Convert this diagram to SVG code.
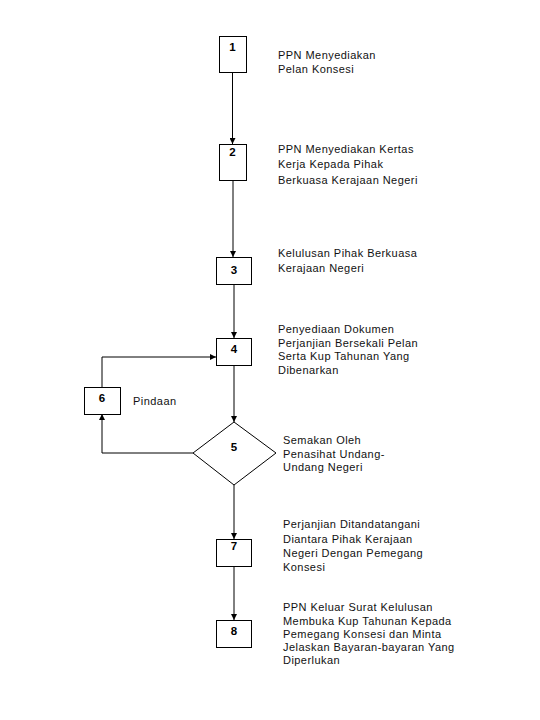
<svg xmlns="http://www.w3.org/2000/svg" width="540" height="720" viewBox="0 0 540 720">
<defs>
<marker id="arr" markerUnits="userSpaceOnUse" markerWidth="7" markerHeight="6" refX="6" refY="3" orient="auto">
<path d="M0,0 L6,3 L0,6 z" fill="#000"/>
</marker>
<style>
.box{fill:#fff;stroke:#000;stroke-width:1}
.num{font-family:"Liberation Sans",Arial,sans-serif;font-size:11.5px;font-weight:bold;text-anchor:middle;fill:#000}
.lbl{font-family:"Liberation Sans",Arial,sans-serif;font-size:11px;letter-spacing:0.45px;fill:#111}
.con{fill:none;stroke:#000;stroke-width:1;marker-end:url(#arr)}
</style>
</defs>
<rect width="540" height="720" fill="#fff"/>
<g id="connectors">
<path class="con" d="M232.5,72 V144"/>
<path class="con" d="M233,180 V257"/>
<path class="con" d="M234,284 V338"/>
<path class="con" d="M234,365 V422"/>
<path class="con" d="M234,485 V539"/>
<path class="con" d="M234,566 V620"/>
<path class="con" d="M193,453 H102 V414"/>
<path class="con" d="M102,387 V357 H216"/>
</g>
<g id="node1">
<rect class="box" x="219.5" y="36.5" width="27" height="36"/>
<text class="num" x="232.5" y="51">1</text>
<text class="lbl" x="278" y="59">PPN Menyediakan</text>
<text class="lbl" x="278" y="73">Pelan Konsesi</text>
</g>
<g id="node2">
<rect class="box" x="219.5" y="144.5" width="27" height="36"/>
<text class="num" x="232.5" y="156">2</text>
<text class="lbl" x="278" y="152.5">PPN Menyediakan Kertas</text>
<text class="lbl" x="278" y="168">Kerja Kepada Pihak</text>
<text class="lbl" x="278" y="183.5">Berkuasa Kerajaan Negeri</text>
</g>
<g id="node3">
<rect class="box" x="216.5" y="257.5" width="35" height="27"/>
<text class="num" x="234" y="274">3</text>
<text class="lbl" x="278" y="256.5">Kelulusan Pihak Berkuasa</text>
<text class="lbl" x="278" y="271.5">Kerajaan Negeri</text>
</g>
<g id="node4">
<rect class="box" x="216.5" y="338.5" width="35" height="27"/>
<text class="num" x="234" y="353">4</text>
<text class="lbl" x="278" y="332.5">Penyediaan Dokumen</text>
<text class="lbl" x="278" y="346.5">Perjanjian Bersekali Pelan</text>
<text class="lbl" x="278" y="360">Serta Kup Tahunan Yang</text>
<text class="lbl" x="278" y="373.5">Dibenarkan</text>
</g>
<g id="node5">
<polygon class="box" points="234,422 276,453 234,485 193,453"/>
<text class="num" x="234" y="451">5</text>
<text class="lbl" x="283" y="444">Semakan Oleh</text>
<text class="lbl" x="283" y="457.5">Penasihat Undang-</text>
<text class="lbl" x="283" y="471">Undang Negeri</text>
</g>
<g id="node6">
<rect class="box" x="84.5" y="387.5" width="36" height="27"/>
<text class="num" x="102" y="402">6</text>
<text class="lbl" x="133" y="405">Pindaan</text>
</g>
<g id="node7">
<rect class="box" x="216.5" y="539.5" width="35" height="27"/>
<text class="num" x="234" y="550">7</text>
<text class="lbl" x="283" y="527.5">Perjanjian Ditandatangani</text>
<text class="lbl" x="283" y="542.5">Diantara Pihak Kerajaan</text>
<text class="lbl" x="283" y="556.5">Negeri Dengan Pemegang</text>
<text class="lbl" x="283" y="570.5">Konsesi</text>
</g>
<g id="node8">
<rect class="box" x="216.5" y="620.5" width="35" height="27"/>
<text class="num" x="234" y="634.5">8</text>
<text class="lbl" x="283" y="611">PPN Keluar Surat Kelulusan</text>
<text class="lbl" x="283" y="624.5">Membuka Kup Tahunan Kepada</text>
<text class="lbl" x="283" y="637.5">Pemegang Konsesi dan Minta</text>
<text class="lbl" x="283" y="651">Jelaskan Bayaran-bayaran Yang</text>
<text class="lbl" x="283" y="664">Diperlukan</text>
</g>
</svg>
